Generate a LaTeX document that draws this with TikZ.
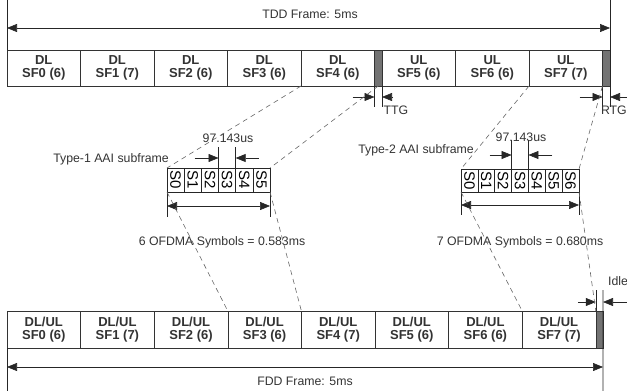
\documentclass[tikz,border=0pt]{standalone}
\usepackage{fontspec}
\setmainfont{Liberation Sans}
\usetikzlibrary{arrows.meta}

\tikzset{
  sfbox/.style={draw=black!80, line width=0.6pt, anchor=north west, minimum height=36pt, inner sep=0pt, outer sep=0pt,
    align=center, text=black!80, font=\fontsize{13}{13.5}\selectfont\bfseries},
  gapbox/.style={draw=black!80, line width=0.6pt, fill=black!55, anchor=north west, minimum width=7.5pt,
    minimum height=36pt, inner sep=0pt, outer sep=0pt},
  symbox/.style={draw=black!85, line width=0.6pt, anchor=north west, inner sep=0pt, outer sep=0pt,
    font=\fontsize{15}{15}\selectfont},
  lbl/.style={text=black!80, inner sep=0pt, font=\fontsize{12.3}{13}\selectfont},
  dimline/.style={black!85, line width=0.6pt},
  dim/.style={dimline, -{Triangle[length=10pt,width=8pt]}},
  ddim/.style={dimline, {Triangle[length=10pt,width=8pt]}-{Triangle[length=10pt,width=8pt]}},
  guide/.style={black!60, line width=0.6pt, dash pattern=on 5pt off 4pt}
}

\begin{document}
\begin{tikzpicture}[x=1pt,y=-1pt]
\useasboundingbox (0,0) rectangle (627,391);

% TDD frame
\foreach \n [count=\i from 0] in {6,7,6,6,6}
  \node[sfbox, minimum width=73.5pt] (t\i) at ({7+73.5*\i},50) {DL\\SF\i{} (\n)};
\node[gapbox] (ttg) at (t4.north east) {};
\foreach \n [count=\i from 5] in {6,6,7}
  \node[sfbox, minimum width=73.5pt] (t\i) at ({382+73.5*(\i-5)},50) {UL\\SF\i{} (\n)};
\node[gapbox] (rtg) at (t7.north east) {};

\coordinate (tddL) at (7,0);
\coordinate (tddR) at (610,0);
\draw[dimline] (t0.north west) -- (tddL);
\draw[dimline] (tddR) -- ++(0,107);
\draw[ddim] (tddL) ++(0,28) -- ([yshift=-28pt]tddR);
\node[lbl] (tddtxt) at (310,14) {TDD Frame: 5ms};

% TTG / RTG
\draw[dimline] (ttg.south west) -- ++(0,21);
\draw[dimline] (ttg.south east) -- ++(0,21);
\draw[dim] (ttg.south west) ++(-22,11) -- ++(22,0);
\draw[dim] (ttg.south east) ++(11,11) -- ++(-11,0);
\node[lbl] (ttgtxt) at (396,110) {TTG};
\draw[dimline] (rtg.south west) -- ++(0,21);
\draw[dim] (rtg.south west) ++(-23,11) -- ++(23,0);
\draw[dim] (rtg.south east) ++(20,11) -- ++(-20,0);
\node[lbl, anchor=east] (rtgtxt) at (627,110) {RTG};

% Type-1 subframe
\foreach \i in {0,...,5}
  \node[symbox, minimum width=17.17pt, minimum height=24pt] (a\i) at ({167+17.17*\i},168) {\rotatebox{-90}{S\i}};
\node[lbl, anchor=east] (a-txt) at (169,159) {Type-1 AAI subframe};
\draw[dimline] (a3.north west) -- ++(0,-21);
\draw[dimline] (a3.north east) -- ++(0,-21);
\draw[dim] (a3.north west) ++(-24,-10) -- ++(24,0);
\draw[dim] (a3.north east) ++(23,-10) -- ++(-23,0);
\node[lbl] (a-sym) at (228,138) {97.143us};
\draw[dimline] (a0.south west) -- ++(0,25);
\draw[dimline] (a5.south east) -- ++(0,25);
\draw[ddim] (a0.south west) ++(0,14) -- ([yshift=-14pt]a5.south east);
\node[lbl] (a-len) at (222,242) {6 OFDMA Symbols = 0.583ms};

% Type-2 subframe
\foreach \i in {0,...,6}
  \node[symbox, minimum width=16.86pt, minimum height=23pt] (b\i) at ({461+16.86*\i},169) {\rotatebox{-90}{S\i}};
\node[lbl, anchor=east] (b-txt) at (474,150) {Type-2 AAI subframe};
\draw[dimline] (b3.north west) -- ++(0,-29);
\draw[dimline] (b3.north east) -- ++(0,-29);
\draw[dim] (b3.north west) ++(-22,-14) -- ++(22,0);
\draw[dim] (b3.north east) ++(24,-14) -- ++(-24,0);
\node[lbl] (b-sym) at (521,137) {97.143us};
\draw[dimline] (b0.south west) -- ++(0,23);
\draw[dimline] (b6.south east) -- ++(0,23);
\draw[ddim] (b0.south west) ++(0,13) -- ([yshift=-13pt]b6.south east);
\node[lbl] (b-len) at (520,242) {7 OFDMA Symbols = 0.680ms};

% FDD frame
\foreach \n [count=\i from 0] in {6,7,6,6,7,6,6,7}
  \node[sfbox, minimum width=73.6pt, minimum height=37pt] (f\i) at ({7+73.6*\i},311) {DL/UL\\SF\i{} (\n)};
\node[gapbox, minimum width=7.2pt, minimum height=37pt] (idle) at (f7.north east) {};

\coordinate (fddL) at (7,391);
\coordinate (fddR) at (603,391);
\draw[dimline] (f0.south west) -- (fddL);
\draw[dimline] (idle.north east) ++(0,-21) -- (fddR);
\draw[dimline] (idle.north west) -- ++(0,-21);
\draw[ddim] (fddL) ++(0,-24) -- ([yshift=24pt]fddR);
\node[lbl] (fddtxt) at (305,381) {FDD Frame: 5ms};
\draw[dim] (idle.north west) ++(-18,-9) -- ++(18,0);
\draw[dim] (idle.north east) ++(24,-9) -- ++(-24,0);
\node[lbl] (idletxt) at (618,281) {Idle};

% dashed guides
\draw[guide] (t4.south west) -- (a0.north west);
\draw[guide] (ttg.south) -- (a5.north east);
\draw[guide] (a0.south west) -- (f3.north west);
\draw[guide] (a5.south east) -- (f4.north west);
\draw[guide] (t6.south east) -- (b0.north west);
\draw[guide] (rtg.south west) -- (b6.north east);
\draw[guide] (b0.south west) -- (f7.north west);
\draw[guide] (b6.south east) -- (idle.north west);

\end{tikzpicture}
\end{document}
